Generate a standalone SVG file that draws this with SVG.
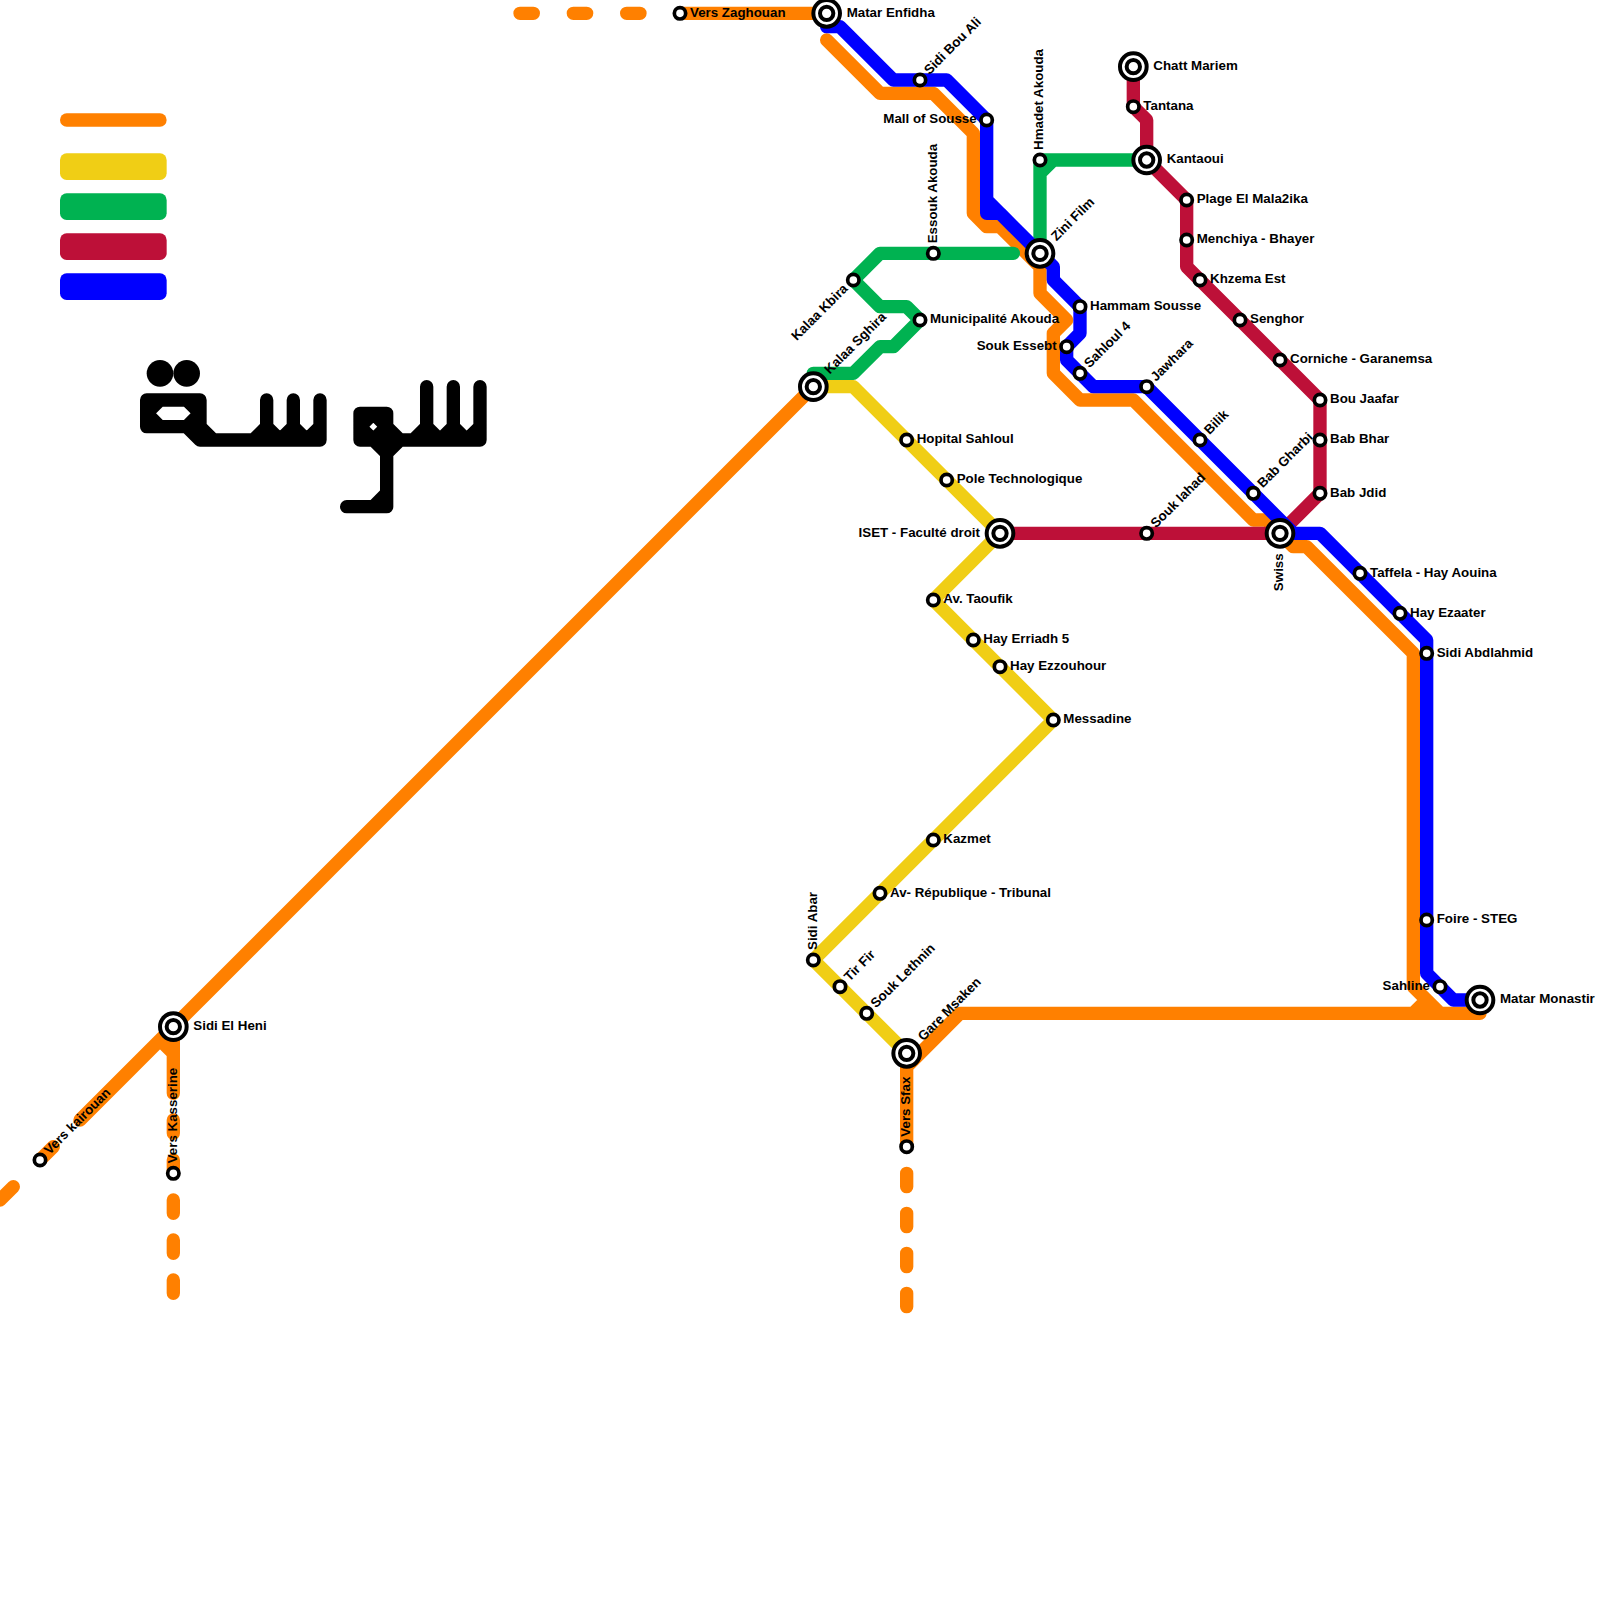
<svg xmlns="http://www.w3.org/2000/svg" width="1600" height="1600" viewBox="0 0 1600 1600">
<style>
.l{fill:none;stroke-width:1;stroke-linecap:round;stroke-linejoin:round}
.or{stroke:#ff8000}.ye{stroke:#f0ce15}.gr{stroke:#00b251}.re{stroke:#bd1038}.bl{stroke:#0000ff}.bk{stroke:#000}
.s{fill:#fff;stroke:#000;stroke-width:4}
.s[r="5.67"]{stroke-width:3.7}
text{font-family:"Liberation Sans",Arial,sans-serif;font-size:13.33px;font-weight:700;fill:#000}
.e{text-anchor:end}
</style>
<rect width="1600" height="1600" fill="#fff"/>
<g id="legend">
<path class="l or" d="M66.67 120H160" style="stroke-width:13.33"/>
<rect x="60" y="153.33" width="106.67" height="26.67" rx="6.67" fill="#f0ce15"/>
<rect x="60" y="193.33" width="106.67" height="26.67" rx="6.67" fill="#00b251"/>
<rect x="60" y="233.33" width="106.67" height="26.67" rx="6.67" fill="#bd1038"/>
<rect x="60" y="273.33" width="106.67" height="26.67" rx="6.67" fill="#0000ff"/>
</g>
<g id="title-shape" transform="scale(13.3333)">
<circle cx="12" cy="28" r="1" fill="#000"/><circle cx="14" cy="28" r="1" fill="#000"/>
<path class="l bk" d="M11 30H15V32H11ZM11 31L12 30M11 31L12 32M15 31L14 30M15 31L14 32M14 32L15 33M15 32L16 33M15 33H24M20 30V33M22 30V33M24 30V33M19 33L20 32L21 33L22 32L23 33L24 32"/>
<path class="l bk" d="M27 31H29V33H27ZM27 32L28 31L29 32L28 33ZM28 33L29 34M30 33L29 34M29 33V38H26M28 38L29 37M29 33H36M32 29V33M34 29V33M36 29V33M29 32L30 33M31 33L32 32L33 33L34 32L35 33L36 32"/>
</g>
<g id="connectors" transform="scale(13.3333)">
<path class="l or" d="M51 1H62M62 3L66 7H70L73 10V16L74 17H75L78 20V22L80 24L79 25V28L81 30H85L94 39H95L96 40L97 41H98L106 49V74L108 76H111M106 76L107 75M72 76H108M72 76L68 80V86M61 29L6 84M13 77V82M12 78L13 79M13 84V85M13 87V88M3 87L4 86"/>
<path class="l or" d="M39 1H40M43 1H44M47 1H48M68 88V89M68 91V92M68 94V95M68 97V98M13 90V91M13 93V94M13 96V97M0 90L1 89"/>
<path class="l ye" d="M61 29H64L75 40L70 45L79 54L61 72L68 79"/>
<path class="l gr" d="M86 12H78V19M79 12L78 13M76 19H66L64 21L66 23H68L69 24L67 26H66L64 28H61V29"/>
<path class="l re" d="M85 5V8L86 9V12L89 15V20L99 30V37L96 40H75"/>
<path class="l bl" d="M62 1V2H63L67 6H71L74 9V15L78 19L79 20V21L81 23V25L80 26V27L82 29H86L97 40H99L107 48V73L109 75H111M74 15V16H75L76 17"/>
</g>
<g id="matar-enfidha" transform="translate(826.67 13.33)"><circle class="s" r="13.33"/><circle class="s" r="6.67"/><text x="20" y="3.3">Matar Enfidha</text></g>
<g id="vers-zaghouan" transform="translate(680 13.33)"><circle class="s" r="5.67"/><text x="10" y="3.3">Vers Zaghouan</text></g>
<g id="sidi-bou-ali" transform="translate(920 80)"><circle class="s" r="5.67"/><text transform="rotate(-45)" x="10" y="3.3">Sidi Bou Ali</text></g>
<g id="mall-of-sousse" transform="translate(986.67 120)"><circle class="s" r="5.67"/><text class="e" x="-10" y="3.3">Mall of Sousse</text></g>
<g id="hmadet-akouda" transform="translate(1040 160)"><circle class="s" r="5.67"/><text transform="rotate(-90)" x="10" y="3.3">Hmadet Akouda</text></g>
<g id="essouk-akouda" transform="translate(933.33 253.33)"><circle class="s" r="5.67"/><text transform="rotate(-90)" x="10" y="3.3">Essouk Akouda</text></g>
<g id="zini-film" transform="translate(1040 253.33)"><circle class="s" r="13.33"/><circle class="s" r="6.67"/><text transform="rotate(-45)" x="20" y="3.3">Zini Film</text></g>
<g id="chatt-mariem" transform="translate(1133.33 66.67)"><circle class="s" r="13.33"/><circle class="s" r="6.67"/><text x="20" y="3.3">Chatt Mariem</text></g>
<g id="tantana" transform="translate(1133.33 106.67)"><circle class="s" r="5.67"/><text x="10" y="3.3">Tantana</text></g>
<g id="kantaoui" transform="translate(1146.67 160)"><circle class="s" r="13.33"/><circle class="s" r="6.67"/><text x="20" y="3.3">Kantaoui</text></g>
<g id="plage-el-mala2ika" transform="translate(1186.67 200)"><circle class="s" r="5.67"/><text x="10" y="3.3">Plage El Mala2ika</text></g>
<g id="menchiya-bhayer" transform="translate(1186.67 240)"><circle class="s" r="5.67"/><text x="10" y="3.3">Menchiya - Bhayer</text></g>
<g id="khzema-est" transform="translate(1200 280)"><circle class="s" r="5.67"/><text x="10" y="3.3">Khzema Est</text></g>
<g id="senghor" transform="translate(1240 320)"><circle class="s" r="5.67"/><text x="10" y="3.3">Senghor</text></g>
<g id="corniche-garanemsa" transform="translate(1280 360)"><circle class="s" r="5.67"/><text x="10" y="3.3">Corniche - Garanemsa</text></g>
<g id="bou-jaafar" transform="translate(1320 400)"><circle class="s" r="5.67"/><text x="10" y="3.3">Bou Jaafar</text></g>
<g id="bab-bhar" transform="translate(1320 440)"><circle class="s" r="5.67"/><text x="10" y="3.3">Bab Bhar</text></g>
<g id="bab-jdid" transform="translate(1320 493.33)"><circle class="s" r="5.67"/><text x="10" y="3.3">Bab Jdid</text></g>
<g id="kalaa-kbira" transform="translate(853.33 280)"><circle class="s" r="5.67"/><text class="e" transform="rotate(-45)" x="-10" y="3.3">Kalaa Kbira</text></g>
<g id="municipalite-akouda" transform="translate(920 320)"><circle class="s" r="5.67"/><text x="10" y="3.3">Municipalité Akouda</text></g>
<g id="kalaa-sghira" transform="translate(813.33 386.67)"><circle class="s" r="13.33"/><circle class="s" r="6.67"/><text transform="rotate(-45)" x="20" y="3.3">Kalaa Sghira</text></g>
<g id="hammam-sousse" transform="translate(1080 306.67)"><circle class="s" r="5.67"/><text x="10" y="3.3">Hammam Sousse</text></g>
<g id="souk-essebt" transform="translate(1066.67 346.67)"><circle class="s" r="5.67"/><text class="e" x="-10" y="3.3">Souk Essebt</text></g>
<g id="sahloul-4" transform="translate(1080 373.33)"><circle class="s" r="5.67"/><text transform="rotate(-45)" x="10" y="3.3">Sahloul 4</text></g>
<g id="jawhara" transform="translate(1146.67 386.67)"><circle class="s" r="5.67"/><text transform="rotate(-45)" x="10" y="3.3">Jawhara</text></g>
<g id="bilik" transform="translate(1200 440)"><circle class="s" r="5.67"/><text transform="rotate(-45)" x="10" y="3.3">Bilik</text></g>
<g id="bab-gharbi" transform="translate(1253.33 493.33)"><circle class="s" r="5.67"/><text transform="rotate(-45)" x="10" y="3.3">Bab Gharbi</text></g>
<g id="swiss" transform="translate(1280 533.33)"><circle class="s" r="13.33"/><circle class="s" r="6.67"/><text class="e" transform="rotate(-90)" x="-20" y="3.3">Swiss</text></g>
<g id="souk-lahad" transform="translate(1146.67 533.33)"><circle class="s" r="5.67"/><text transform="rotate(-45)" x="10" y="3.3">Souk lahad</text></g>
<g id="iset" transform="translate(1000 533.33)"><circle class="s" r="13.33"/><circle class="s" r="6.67"/><text class="e" x="-20" y="3.3">ISET - Faculté droit</text></g>
<g id="taffela" transform="translate(1360 573.33)"><circle class="s" r="5.67"/><text x="10" y="3.3">Taffela - Hay Aouina</text></g>
<g id="hay-ezaater" transform="translate(1400 613.33)"><circle class="s" r="5.67"/><text x="10" y="3.3">Hay Ezaater</text></g>
<g id="sidi-abdlahmid" transform="translate(1426.67 653.33)"><circle class="s" r="5.67"/><text x="10" y="3.3">Sidi Abdlahmid</text></g>
<g id="foire-steg" transform="translate(1426.67 920)"><circle class="s" r="5.67"/><text x="10" y="3.3">Foire - STEG</text></g>
<g id="sahline" transform="translate(1440 986.67)"><circle class="s" r="5.67"/><text class="e" x="-10" y="3.3">Sahline</text></g>
<g id="matar-monastir" transform="translate(1480 1000)"><circle class="s" r="13.33"/><circle class="s" r="6.67"/><text x="20" y="3.3">Matar Monastir</text></g>
<g id="hopital-sahloul" transform="translate(906.67 440)"><circle class="s" r="5.67"/><text x="10" y="3.3">Hopital Sahloul</text></g>
<g id="pole-technologique" transform="translate(946.67 480)"><circle class="s" r="5.67"/><text x="10" y="3.3">Pole Technologique</text></g>
<g id="av-taoufik" transform="translate(933.33 600)"><circle class="s" r="5.67"/><text x="10" y="3.3">Av. Taoufik</text></g>
<g id="hay-erriadh-5" transform="translate(973.33 640)"><circle class="s" r="5.67"/><text x="10" y="3.3">Hay Erriadh 5</text></g>
<g id="hay-ezzouhour" transform="translate(1000 666.67)"><circle class="s" r="5.67"/><text x="10" y="3.3">Hay Ezzouhour</text></g>
<g id="messadine" transform="translate(1053.33 720)"><circle class="s" r="5.67"/><text x="10" y="3.3">Messadine</text></g>
<g id="kazmet" transform="translate(933.33 840)"><circle class="s" r="5.67"/><text x="10" y="3.3">Kazmet</text></g>
<g id="av-republique" transform="translate(880 893.33)"><circle class="s" r="5.67"/><text x="10" y="3.3">Av- République - Tribunal</text></g>
<g id="sidi-abar" transform="translate(813.33 960)"><circle class="s" r="5.67"/><text transform="rotate(-90)" x="10" y="3.3">Sidi Abar</text></g>
<g id="tir-fir" transform="translate(840 986.67)"><circle class="s" r="5.67"/><text transform="rotate(-45)" x="10" y="3.3">Tir Fir</text></g>
<g id="souk-lethnin" transform="translate(866.67 1013.33)"><circle class="s" r="5.67"/><text transform="rotate(-45)" x="10" y="3.3">Souk Lethnin</text></g>
<g id="gare-msaken" transform="translate(906.67 1053.33)"><circle class="s" r="13.33"/><circle class="s" r="6.67"/><text transform="rotate(-45)" x="20" y="3.3">Gare Msaken</text></g>
<g id="vers-sfax" transform="translate(906.67 1146.67)"><circle class="s" r="5.67"/><text transform="rotate(-90)" x="10" y="3.3">Vers Sfax</text></g>
<g id="sidi-el-heni" transform="translate(173.33 1026.67)"><circle class="s" r="13.33"/><circle class="s" r="6.67"/><text x="20" y="3.3">Sidi El Heni</text></g>
<g id="vers-kasserine" transform="translate(173.33 1173.33)"><circle class="s" r="5.67"/><text transform="rotate(-90)" x="10" y="3.3">Vers Kasserine</text></g>
<g id="vers-kairouan" transform="translate(40 1160)"><circle class="s" r="5.67"/><text transform="rotate(-45)" x="10" y="3.3">Vers kairouan</text></g>
</svg>
